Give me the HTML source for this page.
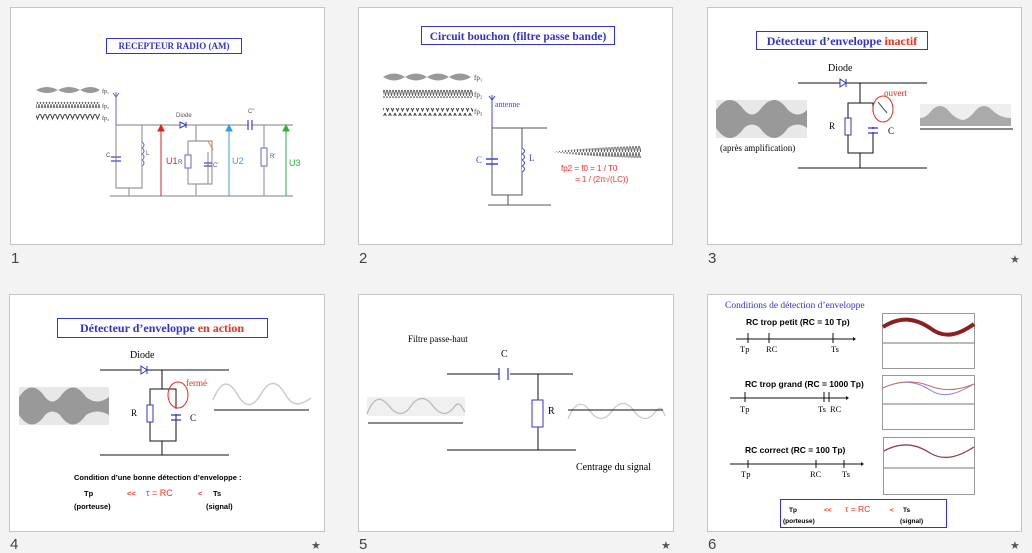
<!DOCTYPE html>
<html><head><meta charset="utf-8"><style>
html,body{margin:0;padding:0;background:#f3f3f3;}
svg{display:block}
text{font-family:"Liberation Serif",serif;}
.s text,text.s{font-family:"Liberation Sans",sans-serif;}
text.n{font-family:"Liberation Sans",sans-serif;font-size:15px;fill:#444}
</style></head><body>
<svg width="1032" height="553" viewBox="0 0 1032 553" xmlns="http://www.w3.org/2000/svg">
<defs>
<pattern id="zz" width="3" height="8" patternUnits="userSpaceOnUse"><path d="M0,0 L1.5,8 L3,0" fill="none" stroke="#666" stroke-width="0.9"/></pattern>
<pattern id="zs" width="5" height="8" patternUnits="userSpaceOnUse"><path d="M0,1 L2.5,7 L5,1" fill="none" stroke="#444" stroke-width="1"/></pattern>
</defs>
<rect width="1032" height="553" fill="#f3f3f3"/>
<g fill="#fff" stroke="#c6c6c6">
<rect x="10.5" y="7.5" width="314" height="237"/>
<rect x="358.5" y="7.5" width="314" height="237"/>
<rect x="707.5" y="7.5" width="314" height="237"/>
<rect x="9.5" y="294.5" width="315" height="237"/>
<rect x="358.5" y="294.5" width="315" height="237"/>
<rect x="707.5" y="294.5" width="314" height="237"/>
</g>
<text class="n" x="11" y="263">1</text><text class="n" x="359" y="263">2</text><text class="n" x="708" y="263">3</text>
<text class="n" x="10" y="549">4</text><text class="n" x="359" y="549">5</text><text class="n" x="708" y="549">6</text>
<g class="s" font-size="11" fill="#555"><text x="1010" y="263">★</text><text x="311" y="549">★</text><text x="661" y="549">★</text><text x="1010" y="549">★</text></g>

<!-- SLIDE 1 -->
<rect x="106.5" y="38.5" width="135" height="15" fill="none" stroke="#3333cc"/>
<text x="174" y="49" font-size="9" font-weight="bold" fill="#3333cc" text-anchor="middle">RECEPTEUR RADIO (AM)</text>
<path d="M36,90 Q47,84 58,90 Q69,84 80,90 Q91,84 100,90 Q91,96 80,90 Q69,96 58,90 Q47,96 36,90Z" fill="#999"/>
<rect x="36" y="102" width="64" height="6" fill="url(#zz)"/>
<rect x="36" y="114" width="64" height="7" fill="url(#zs)"/>
<g font-size="6" fill="#333"><text x="102" y="93">fp₁</text><text x="102" y="108">fp₂</text><text x="102" y="120">fp₃</text></g>
<g stroke="#999" stroke-width="1.2" fill="none">
<path d="M116,125H293M116,125V188H142V125M129,188V196M110,196H293M196,125V141M188,141H212V184H188Z M196,184V196M208,152V184M264,125V196"/>
</g>
<path d="M116,92V125M113,93L116,97L119,93" stroke="#6666cc" fill="none"/>
<path d="M111,157H121M111,161H121" stroke="#6666cc" stroke-width="1.5"/>
<path d="M142,142q4,3 0,6q4,3 0,6q4,3 0,6q4,3 0,6" stroke="#6666cc" fill="#fff"/>
<rect x="185" y="155" width="6" height="13" fill="#fff" stroke="#6666cc"/>
<path d="M204,163H212M204,166H212" stroke="#6666cc" stroke-width="1.5"/>
<path d="M208,141L213,150" stroke="#e08050"/>
<path d="M180,122L186,125L180,128Z M186,122V128" fill="#fff" stroke="#3333cc"/>
<path d="M248,120V130M252,120V130" stroke="#6666cc" stroke-width="1.5"/><rect x="249" y="122" width="2" height="6" fill="#fff"/>
<rect x="261" y="148" width="6" height="18" fill="#fff" stroke="#6666cc"/>
<path d="M161,196V127M158,131L161,125L164,131Z" stroke="#e02020" fill="#e02020"/>
<path d="M229,196V127M226,131L229,125L232,131Z" stroke="#30a0e0" fill="#30a0e0"/>
<path d="M286,196V127M283,131L286,125L289,131Z" stroke="#30b040" fill="#30b040"/>
<g font-size="6" fill="#555" class="s"><text x="106" y="157">C</text><text x="146" y="155">L</text><text x="176" y="117">Diode</text><text x="178" y="164">R</text><text x="213" y="167">C'</text><text x="248" y="113">C"</text><text x="270" y="158">R'</text></g>
<g font-size="9" class="s"><text x="166" y="164" fill="#e02020">U1</text><text x="232" y="164" fill="#30a0e0">U2</text><text x="289" y="166" fill="#30b040">U3</text></g>

<!-- SLIDE 2 -->
<rect x="421.5" y="26.5" width="193" height="18" fill="none" stroke="#3333cc"/>
<text x="518" y="40" font-size="11.5" font-weight="bold" fill="#3333cc" text-anchor="middle">Circuit bouchon (filtre passe bande)</text>
<path d="M383,77 Q394,70 405,77 Q416,70 427,77 Q438,70 449,77 Q460,70 471,77 Q460,84 449,77 Q438,84 427,77 Q416,84 405,77 Q394,84 383,77Z" fill="#999"/>
<rect x="383" y="90" width="90" height="8" fill="url(#zz)"/>
<rect x="383" y="108" width="90" height="8" fill="url(#zs)"/>
<g font-size="7" fill="#333"><text x="474" y="80">fp₁</text><text x="474" y="97">fp₂</text><text x="474" y="114">fp₃</text></g>
<path d="M492,95V128M489,96L492,100L495,96" stroke="#4444cc" fill="none"/>
<text x="495" y="107" font-size="8" fill="#4444cc">antenne</text>
<path d="M492,128H547M492,128V195H522V128M508,195V205M488,205H551" stroke="#555" fill="none"/>
<path d="M486,159H498M486,164H498" stroke="#4444cc" stroke-width="1.5"/>
<path d="M522,148q5,3 0,6q5,3 0,6q5,3 0,6q5,3 0,6" stroke="#4444cc" fill="#fff"/>
<g font-size="9" fill="#4444cc"><text x="476" y="163">C</text><text x="529" y="161">L</text></g>
<path d="M552,152 Q580,148 641,146 V158 Q580,156 552,152Z" fill="url(#zz)"/>
<g class="s" font-size="8" fill="#f03030"><text x="561" y="171">fp2 = f0 = 1 / T0</text><text x="575" y="182">= 1 / (2π√(LC))</text></g>

<!-- SLIDE 3 -->
<rect x="756.5" y="31.5" width="171" height="18" fill="none" stroke="#3333cc"/>
<text x="842" y="45" font-size="12" font-weight="bold" text-anchor="middle"><tspan fill="#3333cc">Détecteur d’enveloppe </tspan><tspan fill="#f03020">inactif</tspan></text>
<text x="828" y="71" font-size="10">Diode</text>
<path d="M798,83H927M860,83V103M848,103H873V153H848Z M860,153V168M798,168H927" stroke="#111" fill="none"/>
<path d="M840,79L846,83L840,87Z M846,79V87" fill="#fff" stroke="#3333cc"/>
<rect x="845" y="118" width="6" height="17" fill="#fff" stroke="#3333cc"/>
<path d="M868,128H878M868,133H878" stroke="#3333cc" stroke-width="1.2"/><rect x="870" y="112" width="6" height="15" fill="#fff"/><rect x="870" y="129" width="6" height="3" fill="#fff"/>
<ellipse cx="883" cy="109" rx="10" ry="13" fill="none" stroke="#e03020"/><path d="M878,102L887,113" stroke="#555"/>
<text x="884" y="96" font-size="9" fill="#e03020">ouvert</text>
<text x="829" y="129" font-size="9">R</text><text x="888" y="134" font-size="9">C</text>
<rect x="716" y="100" width="91" height="38" fill="#e8e8e8"/>
<path d="M716,110 Q730,90 744,110 Q752,119 760,110 Q774,90 788,110 Q798,119 807,110 V128 Q798,121 788,128 Q774,148 760,128 Q752,121 744,128 Q730,148 716,128Z" fill="#999"/>
<text x="720" y="151" font-size="9">(après amplification)</text>
<rect x="920" y="104" width="91" height="22" fill="#eee"/>
<path d="M920,118 Q926,118 932,110 Q940,102 948,110 Q956,120 964,120 Q970,118 976,110 Q984,102 992,110 Q1000,118 1011,118 V126 H920Z" fill="#aaa"/>
<path d="M920,129H1013" stroke="#111"/>

<!-- SLIDE 4 -->
<rect x="57.5" y="318.5" width="210" height="19" fill="none" stroke="#3333cc"/>
<text x="162" y="332" font-size="12" font-weight="bold" text-anchor="middle"><tspan fill="#3333cc">Détecteur d’enveloppe </tspan><tspan fill="#f03020">en action</tspan></text>
<text x="130" y="358" font-size="10">Diode</text>
<path d="M100,370H229M162,370V389M150,389H176V441H150Z M162,441V455M100,455H229" stroke="#111" fill="none"/>
<path d="M141,366L147,370L141,374Z M147,366V374" fill="#fff" stroke="#3333cc"/>
<rect x="147" y="405" width="6" height="17" fill="#fff" stroke="#3333cc"/>
<path d="M171,415H181M171,420H181" stroke="#3333cc" stroke-width="1.2"/><rect x="173" y="400" width="6" height="14" fill="#fff"/><path d="M176,389V409" stroke="#111"/>
<ellipse cx="178" cy="395" rx="10" ry="13" fill="none" stroke="#e03020"/>
<text x="186" y="386" font-size="9" fill="#e03020">fermé</text>
<text x="131" y="416" font-size="9">R</text><text x="190" y="421" font-size="9">C</text>
<rect x="19" y="387" width="90" height="38" fill="#e8e8e8"/>
<path d="M19,397 Q32,378 45,397 Q52,406 60,397 Q73,378 86,397 Q97,406 109,397 V415 Q97,408 86,415 Q73,434 60,415 Q52,408 45,415 Q32,434 19,415Z" fill="#999"/>
<path d="M213,400 C221,380 229,380 237,394 C245,408 253,408 261,394 C269,380 277,380 285,394 C293,408 301,405 311,398" fill="none" stroke="#ccc" stroke-width="1.5"/>
<path d="M214,410H309" stroke="#111"/>
<g class="s" font-size="7.5" font-weight="bold">
<text x="74" y="480">Condition d’une bonne détection d’enveloppe :</text>
<text x="84" y="496">Tp</text><text x="127" y="496" fill="#f03020">&lt;&lt;</text><text x="146" y="496" fill="#f03020" font-size="9" font-weight="normal">τ = RC</text><text x="198" y="496" fill="#f03020">&lt;</text><text x="213" y="496">Ts</text>
<text x="74" y="509">(porteuse)</text><text x="206" y="509">(signal)</text></g>

<!-- SLIDE 5 -->
<text x="408" y="342" font-size="9">Filtre passe-haut</text>
<text x="501" y="357" font-size="10">C</text>
<path d="M447,374H499M510,374H573M538,374V400M538,427V450M447,450H576" stroke="#111" fill="none"/>
<path d="M499,368V380M508,368V380" stroke="#3333cc" stroke-width="1.2"/>
<rect x="532" y="400" width="11" height="27" fill="#fff" stroke="#3333cc"/>
<text x="548" y="414" font-size="10">R</text>
<rect x="367" y="397" width="98" height="19" fill="#f0f0f0"/>
<path d="M367,414 C374,396 381,396 389,406 C397,416 404,416 411,406 C418,396 426,396 433,406 C441,416 448,416 455,406 C460,400 463,410 465,412" fill="none" stroke="#bbb" stroke-width="1.3"/>
<path d="M368,423H463" stroke="#111"/>
<path d="M568,419 C575,401 583,401 590,411 C597,421 605,421 612,411 C619,401 627,401 634,411 C641,421 649,421 656,411 C660,405 663,410 665,416" fill="none" stroke="#ccc" stroke-width="1.3"/>
<path d="M568,410H663" stroke="#111"/>
<text x="576" y="470" font-size="10">Centrage du signal</text>

<!-- SLIDE 6 -->
<text x="725" y="308" font-size="9.5" fill="#3333cc">Conditions de détection d’enveloppe</text>
<g class="s" font-size="8.5" font-weight="bold"><text x="746" y="325">RC trop petit (RC = 10 Tp)</text><text x="745" y="387">RC trop grand (RC = 1000 Tp)</text><text x="745" y="453">RC correct (RC = 100 Tp)</text></g>
<g stroke="#111" fill="none">
<path d="M736,339H853M748,333V343M769,333V343M833,333V343"/>
<path d="M730,398H846M745,392V402M824,392V402M829,392V402"/>
<path d="M730,464H861M748,460V468M816,460V468M844,460V468"/>
</g>
<path d="M853,337L856,339L853,341Z M846,396L849,398L846,400Z M861,462L864,464L861,466Z" fill="#111"/>
<g font-size="8.5"><text x="740" y="352">Tp</text><text x="766" y="352">RC</text><text x="831" y="352">Ts</text>
<text x="740" y="412">Tp</text><text x="818" y="412">Ts</text><text x="830" y="412">RC</text>
<text x="741" y="477">Tp</text><text x="810" y="477">RC</text><text x="842" y="477">Ts</text></g>
<g fill="#fff" stroke="#999"><rect x="882.5" y="313.5" width="92" height="55"/><rect x="882.5" y="375.5" width="92" height="54"/><rect x="883.5" y="437.5" width="91" height="57"/></g>
<path d="M883,343H974M883,404H974M884,468H974" stroke="#777"/>
<path d="M883,327 C900,316 915,318 930,328 C945,340 960,334 974,324" fill="none" stroke="#8a2020" stroke-width="4"/>
<path d="M883,388 C900,380 915,380 930,390 C945,400 960,392 974,384" fill="none" stroke="#8080e0"/>
<path d="M883,388 C900,380 915,380 930,386 C945,392 960,390 974,384" fill="none" stroke="#c07070"/>
<path d="M884,451 C900,442 915,443 930,453 C945,462 960,456 974,447" fill="none" stroke="#904050" stroke-width="1.3"/>
<rect x="780.5" y="499.5" width="166" height="28" fill="none" stroke="#3333cc"/>
<g class="s" font-size="6.5" font-weight="bold"><text x="789" y="512">Tp</text><text x="824" y="512" fill="#f03020">&lt;&lt;</text><text x="845" y="512" fill="#f03020" font-size="8.5" font-weight="normal">τ = RC</text><text x="890" y="512" fill="#f03020">&lt;</text><text x="903" y="512">Ts</text><text x="783" y="523">(porteuse)</text><text x="900" y="523">(signal)</text></g>
</svg>
</body></html>
